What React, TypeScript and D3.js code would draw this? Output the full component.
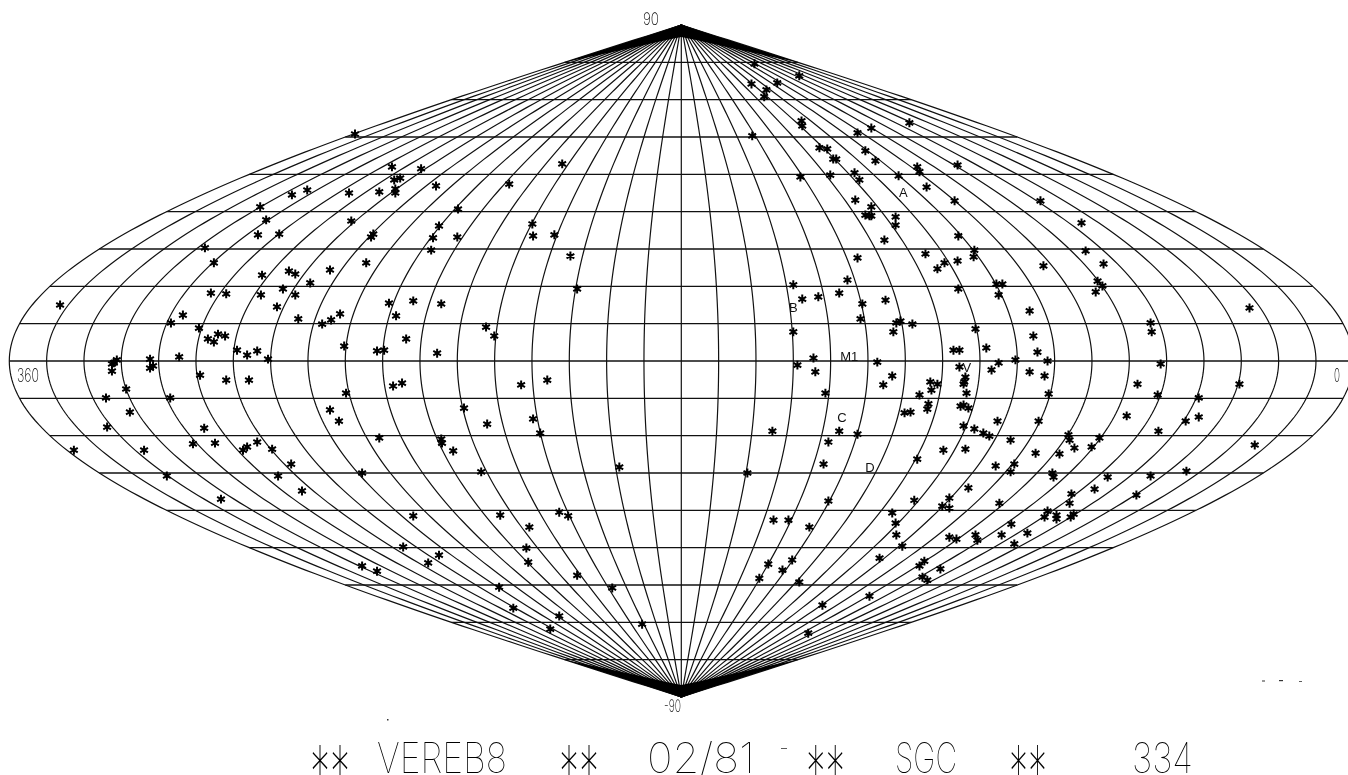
import React from "react";
import * as d3 from "d3";

// Star readings: [degrees along the parallel from the central meridian (+ = toward lon 0), latitude]
const northWest: [number, number][] = [
[-100.2,45.8],[-104.3,44.5],[-112.8,41.3],[-111.2,37.8],[-113.4,33.8],[-107.7,34.0],[-127.6,30.3],[-125.2,26.3],[-112.3,23.0],[-105.1,24.1],[-103.4,23.3],[-94.1,24.4],[-99.4,20.9],[-106.7,19.3],[-103.4,17.7],[-112.6,17.7],[-126.0,18.2],[-121.9,18.0],[-108.3,14.5],[-102.6,11.3],[-96.2,9.9],[-93.8,11.0],[-91.4,12.6],[-166.4,15.0],[-133.5,12.3],[-136.7,10.2],[-129.2,8.8],[-126.8,5.9],[-125.2,5.1],[-124.1,7.2],[-122.2,6.7],[-119.0,2.9],[-116.3,1.6],[-113.6,2.7],[-110.7,0.5],[-134.5,1.1],[-142.3,0.5],[-151.2,0.3],[-87.4,60.8],[-77.5,52.0],[-69.7,51.5],[-76.9,48.5],[-75.3,49.0],[-89.0,45.0],[-80.9,45.3],[-76.6,46.1],[-76.6,45.0],[-65.7,46.9],[-46.1,47.4],[-31.9,52.8],[-59.8,40.7],[-88.4,37.5],[-64.9,36.2],[-82.5,34.0],[-83.1,33.2],[-66.5,33.0],[-60.0,33.2],[-67.0,29.7],[-39.9,36.7],[-39.7,33.5],[-34.0,33.8],[-29.7,28.1],[-84.4,26.3],[-27.9,19.3],[-71.8,16.1],[-78.3,15.5],[-64.3,15.3],[-76.4,12.1],[-73.7,5.9],[-90.3,4.0],[-81.5,2.7],[-79.6,2.9],[-65.4,2.1],[-52.3,9.1],[-50.1,6.7],
];
const southWest: [number, number][] = [
[-152.0,-0.5],[-152.5,-0.8],[-152.5,-2.7],[-141.5,-1.3],[-142.3,-1.9],[-128.9,-3.8],[-121.9,-5.1],[-115.8,-5.1],[-148.7,-7.5],[-154.1,-9.9],[-136.9,-9.9],[-147.7,-13.7],[-153.8,-17.7],[-127.8,-18.0],[-94.1,-13.1],[-91.7,-16.1],[-130.8,-22.2],[-124.9,-22.0],[-162.7,-23.9],[-143.9,-23.9],[-117.4,-23.9],[-116.3,-23.0],[-113.6,-21.7],[-109.6,-23.6],[-104.5,-27.6],[-137.8,-30.8],[-108.0,-30.8],[-101.6,-34.8],[-123.3,-37.0],[-77.2,-6.7],[-74.8,-5.9],[-42.9,-6.4],[-35.9,-5.1],[-89.8,-8.6],[-58.2,-12.6],[-52.0,-16.9],[-39.7,-15.5],[-37.8,-19.3],[-80.9,-20.6],[-64.3,-20.9],[-64.1,-22.0],[-61.1,-24.1],[-85.5,-30.0],[-53.6,-29.7],[-16.6,-28.4],[-71.8,-41.5],[-48.5,-41.3],[-40.7,-44.5],[-32.7,-40.5],[-30.3,-41.5],[-74.5,-49.8],[-41.5,-50.1],[-64.9,-52.0],[-67.8,-54.1],[-41.0,-53.9],[-85.5,-54.9],[-81.5,-56.3],[-27.9,-57.4],[-48.8,-60.6],[-18.5,-60.8],[-45.0,-66.2],[-32.7,-68.3],[-35.1,-71.8],[-10.5,-70.5],
];
const northEast: [number, number][] = [
[19.6,79.6],[31.6,76.4],[25.7,74.5],[18.8,74.2],[22.8,72.6],[22.2,70.8],[32.2,64.3],[32.4,63.0],[19.0,60.3],[47.2,61.1],[50.9,62.4],[61.1,63.8],[37.0,57.1],[39.1,56.8],[49.3,56.3],[40.7,54.1],[41.5,54.1],[52.0,53.6],[63.2,52.0],[63.8,50.7],[74.0,52.5],[46.4,50.4],[47.7,48.5],[39.9,49.8],[31.9,49.3],[58.2,49.6],[65.7,46.6],[46.6,43.1],[73.2,42.9],[50.9,41.3],[49.3,39.1],[50.4,38.9],[50.9,38.9],[57.4,38.6],[57.4,36.4],[54.4,32.4],[74.2,33.5],[78.5,29.7],[78.3,27.9],[47.2,27.6],[65.4,28.7],[74.0,26.8],[70.5,26.3],[68.6,24.7],[96.2,42.9],[107.2,37.0],[108.3,29.5],[97.0,25.5],[113.1,26.0],[111.5,21.4],[112.8,20.1],[111.0,18.5],[93.3,13.4],[94.3,6.7],[95.4,2.4],[98.1,0.0],[125.7,10.2],[126.0,7.8],[152.2,14.2],[44.5,21.7],[30.0,20.4],[84.4,20.6],[86.0,20.6],[74.2,19.3],[85.0,17.7],[42.3,18.2],[36.7,17.2],[32.4,16.6],[54.7,16.3],[48.5,15.3],[48.0,11.3],[58.7,10.7],[57.6,10.2],[61.9,9.9],[56.8,7.8],[30.0,7.8],[78.8,8.6],[81.7,3.5],[72.9,2.9],[74.5,2.9],[35.4,0.8],[89.5,0.3],
];
const southEast: [number, number][] = [
[52.5,-0.3],[31.1,-1.1],[74.5,-1.6],[85.0,-0.5],[83.1,-2.4],[93.3,-2.9],[97.3,-4.0],[35.9,-2.9],[56.5,-4.0],[54.1,-6.4],[76.1,-4.3],[75.8,-5.6],[75.6,-6.2],[66.7,-5.6],[68.6,-6.2],[67.0,-7.8],[63.8,-9.1],[76.4,-8.6],[38.6,-8.6],[98.4,-8.8],[66.2,-11.5],[65.9,-12.9],[74.8,-12.1],[75.6,-11.8],[76.9,-12.6],[59.8,-13.9],[61.4,-13.7],[84.7,-16.1],[95.7,-16.1],[75.6,-17.4],[78.5,-18.2],[80.9,-19.3],[82.5,-20.1],[24.4,-18.8],[42.3,-18.8],[47.2,-19.6],[39.4,-21.7],[88.2,-21.2],[103.7,-19.8],[104.0,-21.2],[112.0,-20.6],[105.3,-23.3],[109.9,-23.0],[101.3,-24.9],[94.9,-24.7],[70.2,-23.9],[76.1,-23.6],[63.2,-26.3],[38.1,-27.6],[84.2,-28.1],[89.2,-27.6],[88.2,-29.7],[99.4,-30.0],[99.7,-31.1],[17.7,-30.0],[76.9,-34.0],[71.8,-36.7],[62.4,-37.3],[39.4,-37.5],[119.3,-14.7],[122.2,-6.2],[128.4,-0.8],[127.6,-9.1],[138.6,-9.9],[149.5,-6.2],[135.1,-16.1],[138.6,-15.0],[127.8,-18.8],[153.6,-22.5],[135.3,-29.5],[125.7,-30.8],[114.2,-31.1],[110.7,-34.3],[104.5,-35.6],[121.9,-35.9],[69.9,-38.9],[71.8,-39.4],[85.2,-38.1],[56.5,-40.7],[57.4,-43.4],[57.6,-46.6],[24.7,-42.6],[28.7,-42.6],[34.3,-44.5],[98.1,-40.2],[104.0,-38.1],[100.5,-41.3],[100.5,-42.3],[97.3,-41.8],[104.3,-41.8],[105.1,-41.0],[88.4,-43.7],[92.7,-46.1],[85.8,-46.6],[78.8,-46.6],[79.3,-48.0],[71.8,-47.2],[73.7,-47.7],[89.2,-49.0],[59.2,-49.6],[53.1,-52.8],[65.1,-53.6],[63.8,-54.9],[69.4,-55.7],[64.6,-57.9],[65.9,-58.7],[29.7,-53.3],[23.3,-54.4],[27.1,-56.0],[20.9,-58.2],[31.6,-59.2],[50.4,-63.0],[37.8,-65.4],[34.0,-72.9],
];

const regionLabels = ["A", "B", "M1", "C", "D", "V"];
const regionLabelAt: [number, number][] = [[59.5, 45.3], [30.0, 14.5], [45.0, 1.3], [43.0, -15.0], [50.5, -28.5], [76.5, -1.6]];
const poleTicks = [90, -90];
const edgeTicks = [360, 0];
const titleTokens = ["**", "VEREB8", "**", "02/81", "**", "SGC", "**", "334"];
// Inner rim of the solid black pole caps, where the meridians merge: [offset, degrees from the pole]
const capRim: [number, number][] = [[0, 3.2], [5, 4.2], [11, 5.6], [20, 7.6], [31.3, 10]];

const W = 1348, H = 775;
const cx = 681.3, cy = 361, halfW = 672, halfH = 336;
const sx = d3.scaleLinear().domain([-180, 180]).range([cx - halfW, cx + halfW]);
const sy = d3.scaleLinear().domain([-90, 90]).range([cy + halfH, cy - halfH]);
const lonOffset = d3.scaleLinear().domain([360, 0]).range([-180, 180]);
const rad = (d: number) => (d * Math.PI) / 180;

const meridianLons = d3.range(0, 361, 10);
const parallelLats = d3.range(-80, 81, 10);
const pathLats = d3.range(-90, 90.5, 1);
const meridian = (lon: number) =>
  d3.line<number>().x((b) => sx(lonOffset(lon) * Math.cos(rad(b)))).y((b) => sy(b))(pathLats) as string;
const star = d3.symbol().type(d3.symbolAsterisk).size(56)() as string;
const stars = [...northWest, ...southWest, ...northEast, ...southEast];

const capPath = (sign: number) => {
  const rim = [...capRim.slice(1).reverse().map(([u, d]) => [-u, d]), ...capRim] as [number, number][];
  const pts: [number, number][] = rim.map(([u, d]) => [sx(u), sy(sign * (90 - d))]);
  return (d3.line()([[sx(0), sy(sign * 90)], ...pts]) as string) + "Z";
};

const titleSpans: [number, number][] = [[310, 350], [377, 507], [559, 599], [647, 755], [806, 845], [895, 957], [1009, 1047], [1132, 1193]];
const thin = "Inter, Roboto, 'Liberation Sans', sans-serif";

export default function App() {
  return (
    <svg width={W} height={H} viewBox={`0 0 ${W} ${H}`} style={{ position: "absolute", left: 0, top: 0, background: "#fff" }}>
      <defs>
        <filter id="grayText" filterUnits="userSpaceOnUse" x={0} y={0} width={W} height={H} colorInterpolationFilters="sRGB">
          <feOffset dx={0} dy={0} />
        </filter>
      </defs>
      <g fill="none" stroke="#111" strokeWidth={1.2}>
        {meridianLons.map((l) => <path key={l} d={meridian(l)} />)}
        {parallelLats.map((b) => {
          const r = 180 * Math.cos(rad(b));
          return <line key={b} x1={sx(-r)} x2={sx(r)} y1={sy(b)} y2={sy(b)} strokeWidth={1.35} />;
        })}
      </g>
      <g fill="#000">
        <path d={capPath(1)} />
        <path d={capPath(-1)} />
      </g>
      <g fill="#000" stroke="#000" strokeWidth={2}>
        {stars.map(([u, b], i) => <path key={i} d={star} fill="none" transform={`translate(${sx(u)},${sy(b)})`} />)}
      </g>
      <g filter="url(#grayText)">
        <g fontFamily="'Liberation Sans', Arial, sans-serif" fontSize={13} fill="#111" textAnchor="middle">
          {regionLabels.map((t, i) => (
            <text key={t} x={sx(regionLabelAt[i][0])} y={sy(regionLabelAt[i][1]) + 5}>{t}</text>
          ))}
        </g>
        <g fontFamily={thin} fontWeight={200} fill="#111" fontSize={17}>
          <text x={643} y={25} textLength={16} lengthAdjust="spacingAndGlyphs">{poleTicks[0]}</text>
          <text x={664} y={712} textLength={17} lengthAdjust="spacingAndGlyphs">{poleTicks[1]}</text>
          <text x={17} y={382} fontSize={19} textLength={22} lengthAdjust="spacingAndGlyphs">{edgeTicks[0]}</text>
          <text x={1334} y={382} fontSize={19} textLength={6} lengthAdjust="spacingAndGlyphs">{edgeTicks[1]}</text>
        </g>
        <g fontFamily={thin} fontWeight={100} fill="#000">
          {titleTokens.map((t, i) => {
            const [a, b] = titleSpans[i];
            const isStar = t === "**";
            return (
              <text key={i} x={a} y={isStar ? 800 : 773} fontSize={isStar ? 76 : 42} textLength={b - a} lengthAdjust="spacingAndGlyphs">{t}</text>
            );
          })}
        </g>
      </g>
      <g fill="#333">
        <rect x={1262} y={680.5} width={3} height={1} />
        <rect x={1279} y={680} width={4} height={1.2} />
        <rect x={1299} y={681} width={3} height={0.8} />
        <rect x={387} y={719} width={1.5} height={1.5} />
        <rect x={781} y={748} width={6} height={0.8} />
      </g>
    </svg>
  );
}
